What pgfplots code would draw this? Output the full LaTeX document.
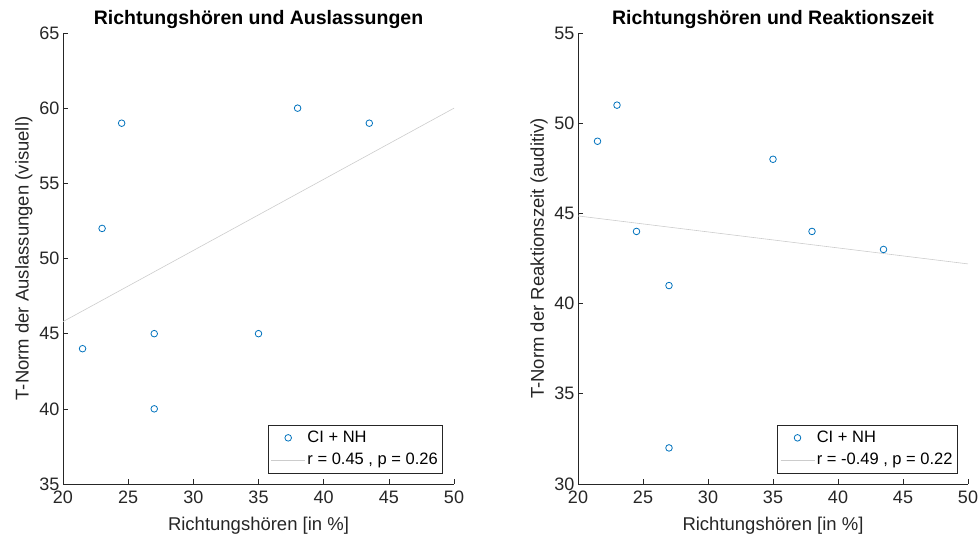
\documentclass[border=0pt]{standalone}
\usepackage{pgfplots}
\pgfplotsset{compat=1.18}
\usepackage{fontspec}
\setmainfont{Liberation Sans}
\definecolor{mblue}{rgb}{0,0.447,0.741}
\definecolor{axgray}{rgb}{0.15,0.15,0.15}
\definecolor{fitgray}{rgb}{0.8,0.8,0.8}
\pgfplotsset{
  myaxis/.style={
    scale only axis, width=391pt, height=451pt,
    anchor=south west,
    axis x line*=bottom, axis y line*=left,
    axis line style={axgray, line width=0.6pt},
    every tick/.style={axgray, line width=0.6pt},
    tick align=inside, major tick length=5pt,
    xmin=20, xmax=50, xtick={20,25,...,50},
    tick label style={font=\fontsize{18}{20}\selectfont, text=axgray},
    xticklabel style={yshift=-3.5pt},
    /pgf/number format/assume math mode=true,
    label style={font=\fontsize{18.5}{21}\selectfont, text=axgray},
    title style={font=\fontsize{19.5}{22}\selectfont\bfseries, yshift=-5pt},
    xlabel={Richtungshören [in \%]},
    xlabel style={yshift=-6pt},
    ylabel style={yshift=0pt},
    legend style={font=\fontsize{16.5}{19}\selectfont, draw=axgray, line width=0.6pt,
      anchor=south east, inner xsep=3pt, inner ysep=4.5pt, row sep=5pt,
      cells={anchor=west}},
    legend cell align=left,
  },
  markleg/.style={legend image code/.code={\draw[mblue, line width=0.8pt] (17pt,0pt) circle (3.3pt);}},
  lineleg/.style={legend image code/.code={\draw[fitgray, line width=0.6pt] (0pt,0pt) -- (34pt,0pt);}},
}
\begin{document}
\begin{tikzpicture}
\useasboundingbox (0,0) rectangle (979pt,540pt);
\begin{axis}[myaxis, at={(63pt,56pt)},
  ymin=35, ymax=65, ytick={35,40,...,65},
  title={Richtungshören und Auslassungen},
  ylabel={T-Norm der Auslassungen (visuell)},
  legend style={at={(0.972,0.024)}}]
\addplot[only marks, mark=o, mark size=3.3pt, mblue, mark options={line width=0.8pt}, markleg] coordinates {
(21.5,44) (23,52) (24.5,59) (27,45) (27,40) (35,45) (38,60) (43.5,59)};
\addlegendentry{CI + NH}
\addplot[fitgray, line width=0.6pt, lineleg] coordinates {(20,45.8) (50,60.0)};
\addlegendentry{r = 0.45 , p = 0.26}
\end{axis}
\begin{axis}[myaxis, at={(578pt,56pt)}, width=390pt,
  ymin=30, ymax=55, ytick={30,35,...,55},
  title={Richtungshören und Reaktionszeit},
  ylabel={T-Norm der Reaktionszeit (auditiv)},
  legend style={at={(0.974,0.024)}}]
\addplot[only marks, mark=o, mark size=3.3pt, mblue, mark options={line width=0.8pt}, markleg] coordinates {
(21.5,49) (23,51) (24.5,44) (27,41) (27,32) (35,48) (38,44) (43.5,43)};
\addlegendentry{CI + NH}
\addplot[fitgray, line width=0.6pt, lineleg] coordinates {(20,44.86) (50,42.2)};
\addlegendentry{r = -0.49 , p = 0.22}
\end{axis}
\end{tikzpicture}
\end{document}
